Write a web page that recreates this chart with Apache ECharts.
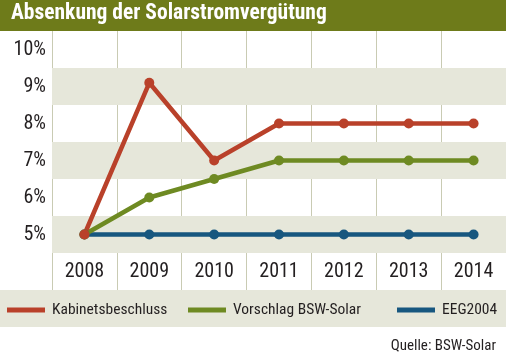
<!DOCTYPE html>
<html>
<head>
<meta charset="utf-8">
<script src="https://cdn.jsdelivr.net/npm/echarts@6/dist/echarts.min.js"></script>
<style>html,body{margin:0;padding:0;background:#fff;}#c{width:506px;height:358px;}</style>
</head>
<body>
<div id="c"></div>
<script>
var years = ['2008','2009','2010','2011','2012','2013','2014'];
var kabinett = [5, 9.1, 7, 8, 8, 8, 8];
var bsw = [5, 6, 6.5, 7, 7, 7, 7];
var eeg = [5, 5, 5, 5, 5, 5, 5];
var seriesNames = ['Kabinetsbeschluss', 'Vorschlag BSW-Solar', 'EEG2004'];
var yTicks = [5, 6, 7, 8, 9, 10];
var bands = [[4.5, 5.5], [6.5, 7.5], [8.5, 9.5]];

var FONT = '"Roboto Condensed", "DejaVu Sans Condensed", sans-serif';
var TXT = '#231f20';
var colors = ['#b9412a', '#6e8a22', '#17577f'];

var chart = echarts.init(document.getElementById('c'), null, {renderer: 'canvas'});

function lineSeries(name, data, color) {
  return {
    name: name, type: 'line', data: data, z: 3,
    symbol: 'circle', symbolSize: 10, showSymbol: true,
    lineStyle: {color: color, width: 4.5},
    itemStyle: {color: color},
    emphasis: {disabled: true}, animation: false
  };
}

var option = {
  animation: false,
  backgroundColor: '#ffffff',
  grid: {left: 52, right: -1, top: 31, bottom: 68, containLabel: false},
  xAxis: {
    type: 'category', data: years, boundaryGap: true,
    axisLine: {show: false}, axisTick: {show: false},
    splitLine: {show: true, lineStyle: {color: '#c9cbb3', width: 1}},
    axisLabel: {inside: true, margin: 8, fontFamily: FONT, fontSize: 20, color: TXT}
  },
  yAxis: {
    type: 'value', min: 3.5, max: 10.5, interval: 0.5,
    axisLine: {show: false}, axisTick: {show: false}, splitLine: {show: false},
    axisLabel: {
      margin: 6, fontFamily: FONT, fontSize: 20, color: TXT,
      formatter: function (v) { return yTicks.indexOf(v) >= 0 ? v + '%' : ''; }
    }
  },
  legend: [0, 1, 2].map(function (i) {
    var lefts = [7, 188, 397];
    return {
      left: lefts[i], top: 302, padding: 0, data: [seriesNames[i]],
      icon: 'rect', itemWidth: 38, itemHeight: 5,
      selectedMode: false,
      textStyle: {fontFamily: FONT, fontSize: 15.5, color: TXT, padding: [0, 0, 0, 2]}
    };
  }),
  graphic: [
    {type: 'rect', left: 0, top: 0, shape: {width: 506, height: 31}, style: {fill: '#6e7b1a'}, z: 10},
    {type: 'text', left: 11, top: 3, style: {text: 'Absenkung der Solarstromvergütung', fill: '#ffffff', font: 'bold 21.5px ' + FONT}, z: 11},
    {type: 'rect', left: 0, top: 290, shape: {width: 506, height: 37}, style: {fill: '#e6e7da'}, z: -1},
    {type: 'text', right: 10, top: 339, style: {text: 'Quelle: BSW-Solar', fill: TXT, font: '15px ' + FONT}, z: 11}
  ],
  series: [
    {
      type: 'line', data: [], z: 1, silent: true,
      markArea: {
        silent: true, itemStyle: {color: '#e6e7da'},
        data: bands.map(function (b) { return [{yAxis: b[0]}, {yAxis: b[1]}]; })
      }
    },
    lineSeries(seriesNames[2], eeg, colors[2]),
    lineSeries(seriesNames[1], bsw, colors[1]),
    lineSeries(seriesNames[0], kabinett, colors[0])
  ]
};
chart.setOption(option);
</script>
</body>
</html>
